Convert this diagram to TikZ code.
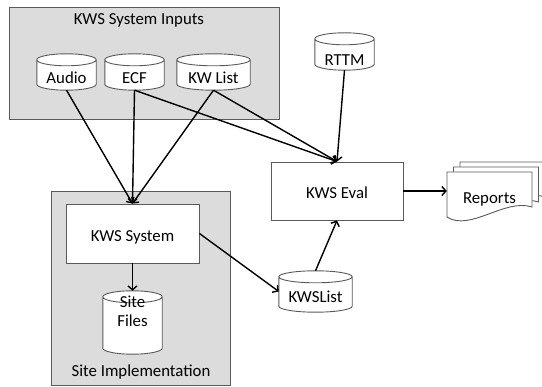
\documentclass[tikz,border=0pt]{standalone}
\usepackage{fontspec}
\setmainfont{Carlito}
\usetikzlibrary{arrows.meta,calc}
\definecolor{grayfill}{HTML}{DCDCDC}
\definecolor{edgegray}{HTML}{5A5A5A}
\tikzset{
  grp/.style={draw=edgegray, fill=grayfill, line width=0.9pt, inner sep=0pt},
  proc/.style={draw=edgegray, fill=white, line width=0.9pt, inner sep=0pt,
    font=\fontsize{16.8}{19}\selectfont, text height=16pt, text depth=0pt},
  db/.style={inner sep=0pt, draw=none},
  lbl/.style={font=\fontsize{16.8}{19}\selectfont, text=black, inner sep=0pt, anchor=base, align=center},
  arr/.style={line width=1.4pt, -{Straight Barb[length=4pt,width=9pt]}},
  docstyle/.style={draw=edgegray, fill=white, line width=0.9pt},
}
\newcommand\cyl[1]{%
  \path[draw=edgegray, fill=white, line width=0.9pt]
    let \p1=(#1.north west), \p2=(#1.south east), \n1={(\x2-\x1)/2} in
    ({\x1},{\y1-6pt}) -- ({\x1},{\y2+6pt})
      arc[start angle=180, end angle=360, x radius=\n1, y radius=6pt]
      -- ({\x2},{\y1-6pt})
      arc[start angle=0, end angle=180, x radius=\n1, y radius=6pt] -- cycle
    ({\x1},{\y1-6pt}) arc[start angle=180, end angle=360, x radius=\n1, y radius=6pt];
}
\newcommand\docsheet[2]{%
  \draw[docstyle, shift={(#1,#2)}] (447,172) -- (532,172) -- (532,207)
    .. controls (505,198) and (470,232) .. (447,217) -- cycle;
}
\begin{document}
\begin{tikzpicture}[x=1pt,y=-1pt]
\useasboundingbox (0,0) rectangle (542,387);

% groups
\node[grp, minimum width=270pt, minimum height=112pt] (inputs) at (144,63) {};
\node[lbl] (inputst) at (139,24.5) {KWS System Inputs};
\node[grp, minimum width=179pt, minimum height=194pt] (site) at (140.5,288) {};
\node[lbl] (sitet) at (141,377) {Site Implementation};

% cylinders
\node[db, minimum width=59pt, minimum height=36pt] (audio) at (66.5,72) {};
\node[db, minimum width=59pt, minimum height=36pt] (ecf) at (134.5,72) {};
\node[db, minimum width=73pt, minimum height=36pt] (kwl) at (213.5,72) {};
\node[db, minimum width=59pt, minimum height=37pt] (rttm) at (344.5,51.5) {};
\node[db, minimum width=59pt, minimum height=63pt] (sitefiles) at (132.5,322.5) {};
\node[db, minimum width=73pt, minimum height=41pt] (kwslist) at (315.5,291.5) {};
\cyl{audio}\cyl{ecf}\cyl{kwl}\cyl{rttm}\cyl{sitefiles}\cyl{kwslist}
\node[lbl] (audiot) at (66.5,84) {Audio};
\node[lbl] (ecft) at (134.5,84) {ECF};
\node[lbl] (kwlt) at (213.5,84) {KW List};
\node[lbl] (rttmt) at (344.5,66) {RTTM};
\node[lbl] (sitefilest) at (132.5,327) {Site\\Files};
\node[lbl] (kwslistt) at (315.5,302.5) {KWSList};

% process boxes
\node[proc, minimum width=133pt, minimum height=59pt] (sys) at (132.5,233.5) {KWS System};
\node[proc, minimum width=132pt, minimum height=58pt] (eval) at (337,191) {KWS Eval};

% reports (multi-document)
\docsheet{13}{-10}
\docsheet{6.5}{-5}
\docsheet{0}{0}
\node[db, minimum width=85pt, minimum height=40pt] (reports) at (489.5,191) {};
\node[lbl] (reportst) at (489.5,204) {Reports};

% connectors
\draw[arr] (audio.south) -- (sys.north);
\draw[arr] (ecf.south) -- (sys.north);
\draw[arr] (kwl.south) -- (sys.north);
\draw[arr] (ecf.south) -- (eval.north);
\draw[arr] (kwl.south) -- (eval.north);
\draw[arr] (rttm.south) -- (eval.north);
\draw[arr] (sys.south) -- (sitefiles.north);
\draw[arr] (sys.east) -- (kwslist.west);
\draw[arr] (kwslist.north) -- (eval.south);
\draw[arr] (eval.east) -- (reports.west);
\end{tikzpicture}
\end{document}
